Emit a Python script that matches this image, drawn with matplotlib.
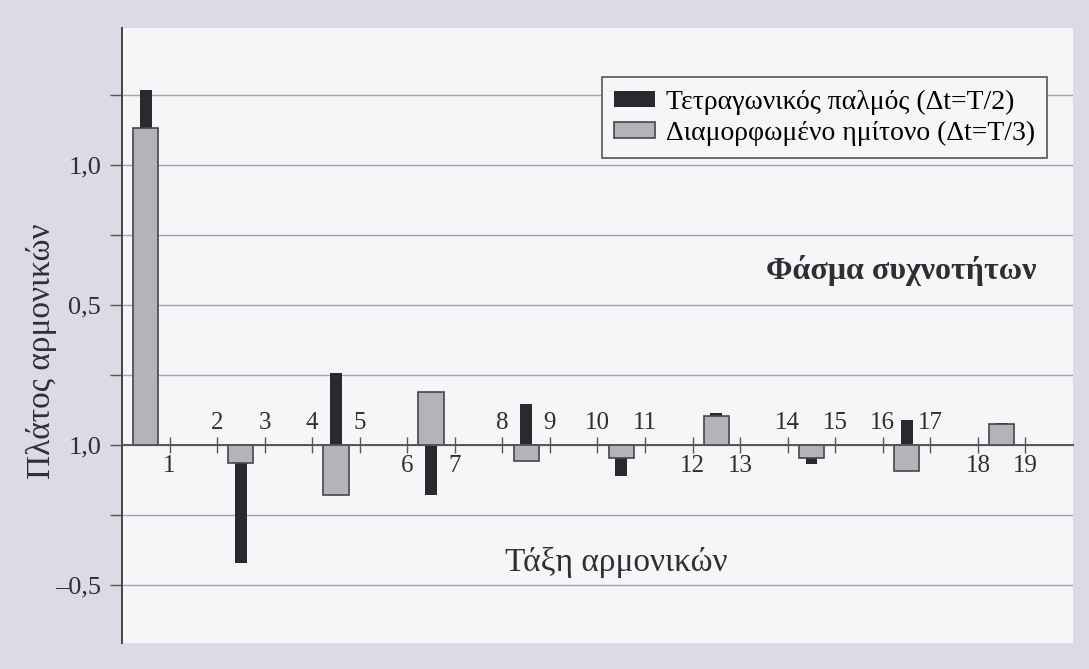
import numpy as np
import matplotlib
matplotlib.use("Agg")
from matplotlib import pyplot as plt

# Data
harmonics = [1, 3, 5, 7, 9, 11, 13, 15, 17, 19]
square = [1.27, -0.42, 0.256, -0.18, 0.146, -0.11, 0.116, -0.068, 0.089, 0.08]
modsine = [1.133, -0.065, -0.179, 0.188, -0.057, -0.048, 0.105, -0.045, -0.092, 0.074]
tick_nums = list(range(1, 20))
below_nums = [1, 6, 7, 12, 13, 18, 19]
ytick_vals = [1.0, 0.5, 0.0, -0.5]
ytick_text = ["1,0", "0,5", "1,0", "–0,5"]

plt.rcParams['font.family'] = ['Liberation Serif', 'DejaVu Serif']
txt = '#2e2e33'

fig = plt.figure(figsize=(10.89, 6.69), dpi=100, facecolor='#dadbe5')
ax = fig.add_axes([0.112, 0.039, 0.8733, 0.919])
ax.set_facecolor('#f6f6f8')

pos = np.array(harmonics) - 0.5
ax.bar(pos, square, width=0.25, color='#2a2a2e', zorder=3,
       label='Τετραγωνικός παλμός (Δt=T/2)')
ax.bar(pos, modsine, width=0.53, color='#b3b3b8', edgecolor='#45454a',
       linewidth=1.2, zorder=4, label='Διαμορφωμένο ημίτονο (Δt=T/3)')

ax.set_xlim(0, 20)
ax.set_ylim(-0.707, 1.49)

# grid every 0.25
ax.set_yticks(np.arange(-0.5, 1.26, 0.25), minor=True)
ax.set_yticks(ytick_vals)
ax.set_yticklabels(ytick_text, fontsize=19, color=txt)
ax.grid(axis='y', which='both', color='#a4a4ac', linewidth=1.0, zorder=0)
ax.tick_params(axis='y', which='both', direction='out', length=9,
               width=1.0, color='#55555a', pad=6)

for s in ['top', 'right']:
    ax.spines[s].set_visible(False)
ax.spines['left'].set_color('#44444a')
ax.spines['left'].set_linewidth(1.4)
ax.spines['bottom'].set_position(('data', 0))
ax.spines['bottom'].set_color('#55555a')
ax.spines['bottom'].set_linewidth(1.4)
ax.spines['bottom'].set_zorder(5)

ax.set_xticks(tick_nums)
ax.set_xticklabels([])
ax.tick_params(axis='x', direction='inout', length=11, width=1.0,
               color='#55555a')
for k in tick_nums:
    if k in below_nums:
        ax.annotate(str(k), (k, 0), xytext=(0, -15), textcoords='offset points',
                    ha='center', va='center', fontsize=18, color=txt)
    else:
        ax.annotate(str(k), (k, 0), xytext=(0, 16), textcoords='offset points',
                    ha='center', va='center', fontsize=18, color=txt)

ax.set_ylabel('Πλάτος αρμονικών', fontsize=24, color=txt)
ax.yaxis.set_label_coords(-0.068, 0.475)

ax.text(0.5195, 0.13, 'Τάξη αρμονικών', transform=ax.transAxes,
        ha='center', va='center', fontsize=24, color=txt)
ax.text(0.819, 0.605, 'Φάσμα συχνοτήτων', transform=ax.transAxes,
        ha='center', va='center', fontsize=23, fontweight='bold', color=txt)

leg = ax.legend(loc='upper right', bbox_to_anchor=(0.973, 0.92), fontsize=20,
                frameon=True, fancybox=False, edgecolor='#55555a',
                facecolor='#f6f6f8', framealpha=1, handlelength=1.45,
                handleheight=0.5, borderpad=0.45, labelspacing=0.2,
                handletextpad=0.4, borderaxespad=0)
leg.get_frame().set_linewidth(1.2)
leg.set_zorder(6)

fig.savefig('out.png', dpi=100, facecolor=fig.get_facecolor())
